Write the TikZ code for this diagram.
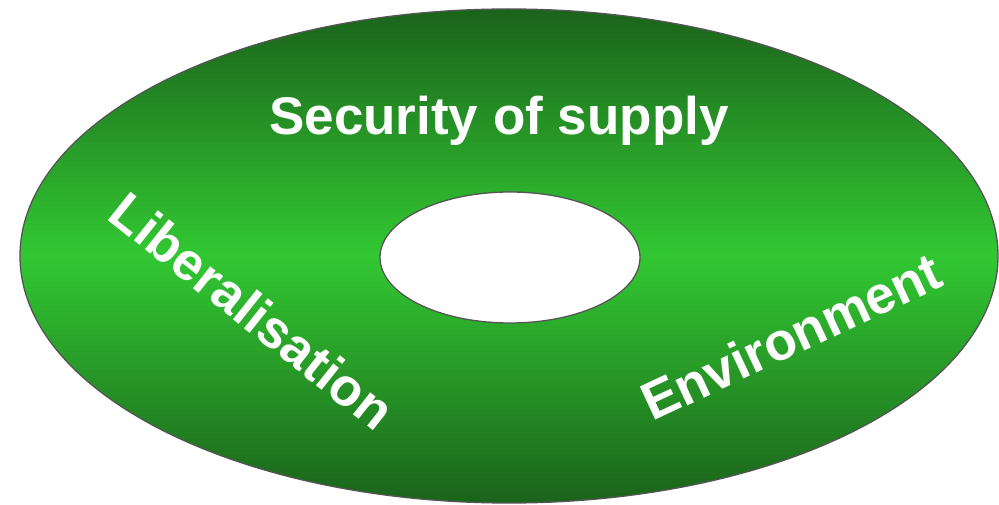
\documentclass[tikz,border=0pt]{standalone}
\usepackage{fontspec}
\setmainfont{Liberation Sans}
\usepackage{tikz}
\usetikzlibrary{positioning,shapes.geometric}
\definecolor{rimgray} {HTML}{555555}
\definecolor{deepleaf}{HTML}{1B641B}
\definecolor{brightleaf}{HTML}{32C832}
\tikzset{
  % --- shapes
  disc/.style  = {ellipse, draw=rimgray, line width=1.3pt, inner sep=0pt, outer sep=0pt},
  hole/.style  = {ellipse, draw=rimgray, line width=1.3pt, fill=white, inner sep=0pt, outer sep=0pt},
  % --- labels
  theme/.style = {text=white, inner sep=0pt, anchor=base,
                  font=\bfseries\fontsize{53}{60}\selectfont},
}
\begin{document}
\begin{tikzpicture}[x=1pt,y=1pt]
  \useasboundingbox (0,0) rectangle (999,504);

  % vertical green gradient, dark at the rim, bright across the middle
  \begin{scope}
    \clip (509,248) ellipse [x radius=489, y radius=247];
    \foreach \i in {0,...,99} {
      \pgfmathsetmacro{\shade}{100*(1-abs(\i-49.5)/49.5)}
      \fill[brightleaf!\shade!deepleaf] (20,{1+\i*4.94}) rectangle (998,{1+(\i+1)*4.94+0.6});
    }
  \end{scope}

  \node[disc, minimum width=978pt, minimum height=494pt] (ring) at (509,248) {};
  \node[hole, minimum width=260pt, minimum height=131pt] (core) at (510,246.5) {};

  \node[theme] (supply) at (499,369) {Security of supply};
  \node[theme, rotate=-38.5] (market) at (240.5,178.5) {Liberalisation};
  \node[theme, rotate=25] (env) at (799,150.5) {Environment};
\end{tikzpicture}
\end{document}
